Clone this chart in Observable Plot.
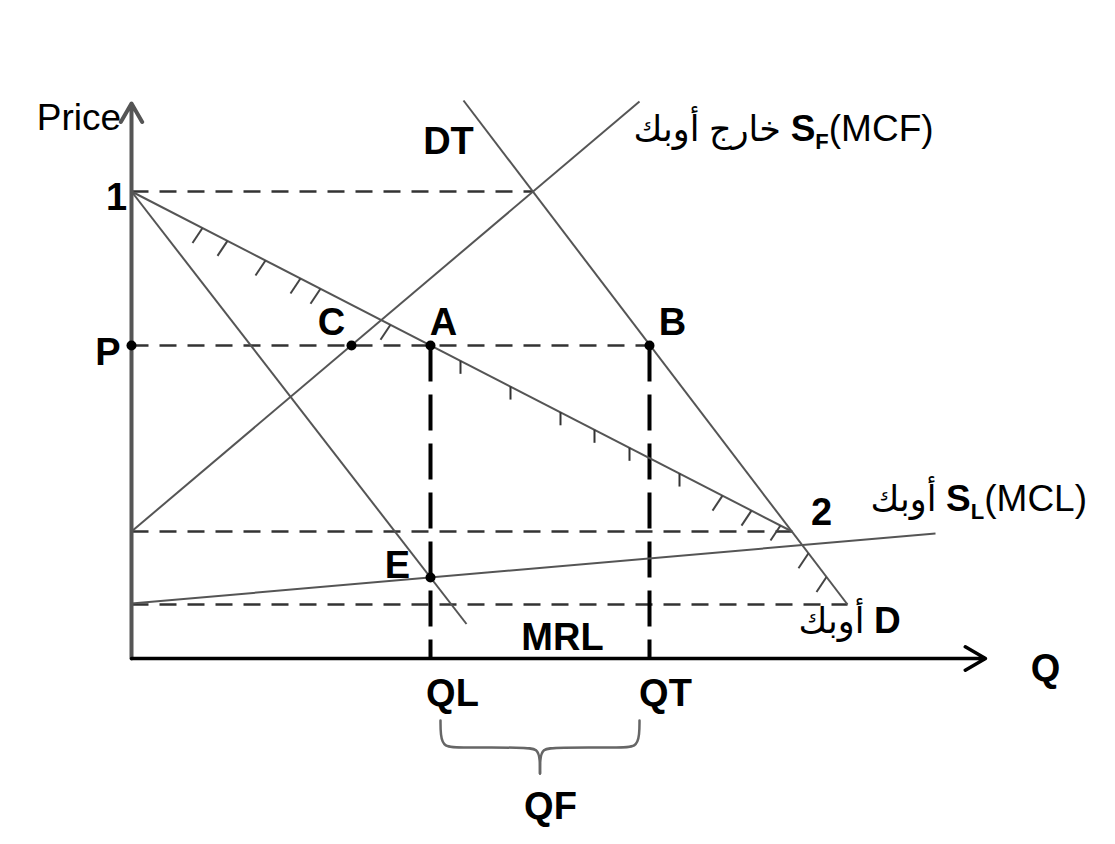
<!DOCTYPE html>
<html>
<head>
<meta charset="utf-8">
<script src="https://cdn.jsdelivr.net/npm/d3@7"></script>
<script src="https://cdn.jsdelivr.net/npm/@observablehq/plot@0.6"></script>
<style>
  html, body { margin: 0; padding: 0; background: #fff; }
  #chart svg { display: block; }
</style>
</head>
<body>
<div id="chart"></div>
<script>
// ---- axis extents (quantity, price) ----
const qMax = 85.4;
const priceMax = 55.5;

// ---- straight curves of the diagram ----
const curveNames = ["DT", "SF", "MRL", "DL", "SL"];
const curveX1 = [33.2, 0, 0, 0, 0];
const curveY1 = [55.8, 12.7, 46.7, 46.7, 5.5];
const curveX2 = [71.6, 50.8, 33.5, 66.06, 80.4];
const curveY2 = [5.4, 55.7, 3.45, 12.7, 12.5];

// ---- dashed guide lines ----
const hDashY = [46.7, 31.3, 12.7, 5.4];
const hDashXEnd = [40.2, 51.8, 66.06, 71.6];
const vDashX = [29.9, 51.8];   // QL, QT
const vDashYTop = [31.3, 31.3];

// ---- marked points ----
const pointNames = ["P", "C", "A", "B", "E"];
const pointX = [0, 22.0, 29.9, 51.8, 29.9];
const pointY = [31.3, 31.3, 31.3, 31.3, 8.1];

// ---- hatch marks (quantity positions) ----
const hatchSlantDL = [7.1, 9.6, 13.4, 16.9, 18.9, 25.9, 59.1, 62.0, 64.9];
const hatchStraightDL = [32.9, 37.9, 42.9, 46.3, 49.8, 54.8];
const hatchSlantDT = [67.7, 69.5];

// ---- bold letter labels ----
const labelText = ["1", "P", "C", "A", "B", "E", "2", "DT", "MRL", "QL", "QT", "QF", "Q"];
const labelX = [-1.5, -2.35, 20.0, 31.2, 54.1, 26.6, 69.0, 31.7, 43.1, 32.1, 53.4, 41.9, 91.4];
const labelY = [46.1, 30.6, 33.6, 33.6, 33.6, 9.3, 14.6, 51.7, 2.1, -3.5, -3.5, -14.8, -1.0];

// ---- curve labels (Arabic + Latin) ----
const curveLabelText = ["خارج أوبك S_F(MCF)", "أوبك S_L(MCL)", "أوبك D"];
const curveLabelX = [50.2, 73.9, 66.7];
const curveLabelY = [52.9, 15.9, 3.7];

// ---- axis title ----
const axisTitle = "Price";
const axisTitleX = -5.25;
const axisTitleY = 54.0;

// ---- derived tables ----
const curves = curveNames.map((name, i) => ({name, x1: curveX1[i], y1: curveY1[i], x2: curveX2[i], y2: curveY2[i]}));
const yOn = (name, x) => {
  const c = curves.find(d => d.name === name);
  return c.y1 + (x - c.x1) * (c.y2 - c.y1) / (c.x2 - c.x1);
};
const hDash = hDashY.map((y, i) => ({x1: 0, x2: hDashXEnd[i], y}));
const vDash = vDashX.map((x, i) => ({x, y1: vDashYTop[i], y2: 0}));
const points = pointNames.map((n, i) => ({n, x: pointX[i], y: pointY[i]}));
const hatchSlant = [
  ...hatchSlantDL.map(x => ({x, y: yOn("DL", x)})),
  ...hatchSlantDT.map(x => ({x, y: yOn("DT", x)}))
];
const hatchStraight = hatchStraightDL.map(x => ({x, y: yOn("DL", x)}));
const labels = labelText.map((t, i) => ({t, x: labelX[i], y: labelY[i]}));
const curveLabels = curveLabelText.map((t, i) => ({t, x: curveLabelX[i], y: curveLabelY[i]}));

// brace under QL..QT
const bl = vDashX[0] + 1.0, br = vDashX[1] - 1.0, bm = (vDashX[0] + vDashX[1]) / 2;
const brace = [
  {z: 0, x: bl, y: -6.2}, {z: 0, x: bl, y: -7.6}, {z: 0, x: bl + 0.3, y: -8.9}, {z: 0, x: bl + 2.0, y: -8.9},
  {z: 0, x: bm - 1.6, y: -8.9}, {z: 0, x: bm - 0.2, y: -9.0}, {z: 0, x: bm, y: -10.2}, {z: 0, x: bm, y: -11.5},
  {z: 1, x: br, y: -6.2}, {z: 1, x: br, y: -7.6}, {z: 1, x: br - 0.3, y: -8.9}, {z: 1, x: br - 2.0, y: -8.9},
  {z: 1, x: bm + 1.6, y: -8.9}, {z: 1, x: bm + 0.2, y: -9.0}, {z: 1, x: bm, y: -10.2}, {z: 1, x: bm, y: -11.5}
];

const font = "'Liberation Sans', Arial, 'DejaVu Sans', sans-serif";

const chart = Plot.plot({
  width: 1115,
  height: 844,
  marginLeft: 131,
  marginRight: 130,
  marginTop: 103,
  marginBottom: 186,
  x: {domain: [0, qMax], axis: null},
  y: {domain: [0, priceMax], axis: null},
  style: {background: "#fff", overflow: "visible"},
  marks: [
    // dashed guides
    Plot.link(hDash, {x1: "x1", x2: "x2", y1: "y", y2: "y", stroke: "#333", strokeWidth: 2.5, strokeDasharray: "17,11"}),
    Plot.link(vDash, {x1: "x", x2: "x", y1: "y1", y2: "y2", stroke: "#000", strokeWidth: 4, strokeDasharray: "36,13"}),
    // curves
    Plot.link(curves, {x1: "x1", y1: "y1", x2: "x2", y2: "y2", stroke: "#555", strokeWidth: 2}),
    // hatch marks
    Plot.link(hatchSlant, {x1: "x", y1: "y", x2: d => d.x - 1.0, y2: d => d.y - 1.5, stroke: "#444", strokeWidth: 2}),
    Plot.link(hatchStraight, {x1: "x", y1: "y", x2: "x", y2: d => d.y - 1.3, stroke: "#333", strokeWidth: 2}),
    // axes
    Plot.arrow([{x1: 0, y1: 0, x2: 0, y2: priceMax}], {x1: "x1", y1: "y1", x2: "x2", y2: "y2", stroke: "#555", strokeWidth: 4, headLength: 8}),
    Plot.arrow([{x1: 0, y1: 0, x2: qMax, y2: 0}], {x1: "x1", y1: "y1", x2: "x2", y2: "y2", stroke: "#000", strokeWidth: 3.5, headLength: 10}),
    // brace
    Plot.line(brace, {x: "x", y: "y", z: "z", curve: "basis", stroke: "#666", strokeWidth: 2.5}),
    // points
    Plot.dot(points, {x: "x", y: "y", r: 5, fill: "#000", stroke: "none"}),
    // labels
    Plot.text(labels, {x: "x", y: "y", text: "t", fontSize: 38, fontWeight: "bold", fontFamily: font, fill: "#000"}),
    Plot.text([{t: axisTitle, x: axisTitleX, y: axisTitleY}], {x: "x", y: "y", text: "t", fontSize: 37, fontFamily: font, fill: "#000"}),
    Plot.text(curveLabels, {x: "x", y: "y", text: "t", textAnchor: "start", fontSize: 37, fontFamily: font, fill: "#000"})
  ]
});

// Latin part of curve labels: bold S with subscript, bold D
const ns = "http://www.w3.org/2000/svg";
chart.querySelectorAll("text").forEach(t => {
  const s = t.textContent;
  if (!curveLabelText.includes(s)) return;
  const m = s.match(/^([^A-Z]*)([A-Z].*)$/);
  if (!m) return;
  t.textContent = "";
  const add = (txt, attrs) => {
    const ts = document.createElementNS(ns, "tspan");
    for (const k in attrs) ts.setAttribute(k, attrs[k]);
    ts.textContent = txt;
    t.appendChild(ts);
  };
  add(m[1], {"font-size": "35"});
  const sub = m[2].match(/^S_(\w)(.*)$/);
  if (sub) {
    add("S", {"font-weight": "bold"});
    add(sub[1], {"font-size": "22", "font-weight": "bold", dy: "8"});
    add(sub[2], {dy: "-8"});
  } else {
    add(m[2], {"font-weight": "bold"});
  }
});

document.getElementById("chart").appendChild(chart);
</script>
</body>
</html>
